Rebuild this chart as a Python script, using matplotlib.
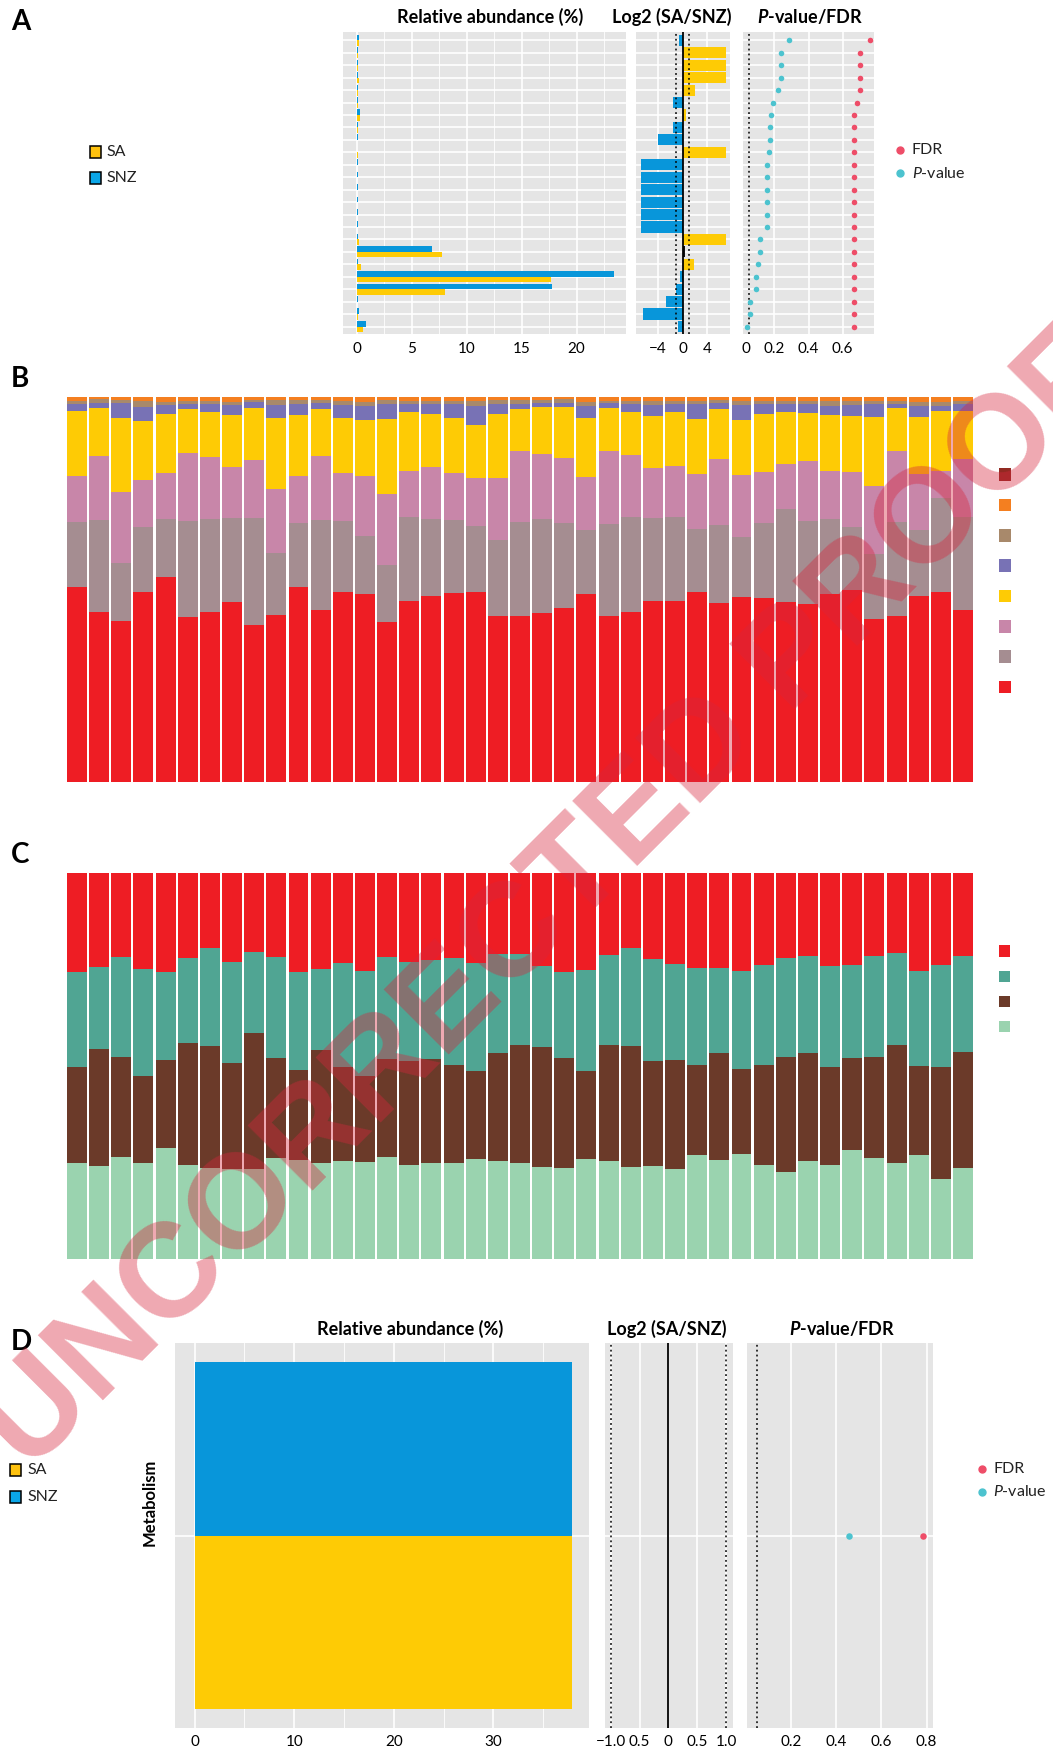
import numpy as np
import matplotlib
matplotlib.use("Agg")
import matplotlib.pyplot as plt
from matplotlib.patches import Rectangle
from matplotlib.lines import Line2D

plt.rcParams['font.family'] = ['Lato', 'DejaVu Sans']
plt.rcParams['mathtext.fontset'] = 'custom'
plt.rcParams['mathtext.rm'] = 'Lato'
plt.rcParams['mathtext.it'] = 'Lato:italic'
plt.rcParams['mathtext.bf'] = 'Lato:bold'
plt.rcParams['mathtext.bfit'] = 'Lato:italic:bold'

W, H = 1053, 1755

# ---- panel A : 24 pathways, top to bottom ----
a_snz = [0.18, 0.05, 0.05, 0.05, 0.05, 0.10, 0.30, 0.08, 0.06, 0.03, 0.08, 0.08,
         0.08, 0.08, 0.08, 0.08, 0.05, 6.8, 0.10, 23.4, 17.8, 0.06, 0.15, 0.85]
a_sa = [0.18, 0.12, 0.12, 0.18, 0.12, 0.08, 0.30, 0.06, 0.04, 0.12, 0.03, 0.03,
        0.03, 0.03, 0.03, 0.03, 0.20, 7.7, 0.40, 17.7, 8.0, 0.04, 0.08, 0.50]
a_log2 = [-0.6, 7.0, 7.0, 7.0, 2.0, -1.57, 0.54, -1.57, -4.0, 7.0, -6.76, -6.76,
          -6.76, -6.76, -6.76, -6.76, 7.0, 0.35, 1.84, -0.43, -1.08, -2.7, -6.4, -0.76]
a_group = ['SNZ', 'SA', 'SA', 'SA', 'SA', 'SNZ', 'SA', 'SNZ', 'SNZ', 'SA', 'SNZ', 'SNZ',
           'SNZ', 'SNZ', 'SNZ', 'SNZ', 'SA', 'none', 'SA', 'SNZ', 'SNZ', 'SNZ', 'SNZ', 'SNZ']
a_pval = [0.288, 0.239, 0.239, 0.239, 0.218, 0.190, 0.179, 0.175, 0.175, 0.165, 0.159, 0.159,
          0.159, 0.159, 0.159, 0.159, 0.116, 0.116, 0.102, 0.091, 0.089, 0.054, 0.054, 0.040]
a_fdr = [0.76, 0.70, 0.70, 0.70, 0.70, 0.688, 0.67, 0.67, 0.67, 0.67, 0.67, 0.67,
         0.67, 0.67, 0.67, 0.67, 0.67, 0.67, 0.67, 0.67, 0.67, 0.67, 0.67, 0.67]

# ---- panel B : 41 samples, 8 taxa (%) ----
b_red = [50.6, 44.1, 41.7, 49.5, 53.4, 42.8, 44.1, 46.7, 40.7, 43.3, 50.6, 44.6, 49.3, 48.7,
         41.5, 46.9, 48.2, 49.0, 49.3, 43.0, 43.0, 43.8, 45.1, 48.7, 43.0, 44.1, 46.9, 46.9,
         49.3, 46.4, 48.0, 47.7, 46.7, 46.1, 48.7, 49.8, 42.3, 43.0, 48.2, 49.3, 44.6]
b_gray = [16.9, 23.9, 15.1, 16.9, 15.1, 25.2, 24.2, 22.1, 27.8, 16.4, 16.6, 23.4, 18.4, 15.1,
          14.8, 21.8, 20.0, 19.0, 17.1, 19.7, 24.4, 24.4, 22.1, 16.6, 23.9, 24.7, 21.6, 21.8,
          16.4, 20.3, 15.6, 19.5, 24.2, 21.6, 19.5, 16.4, 16.9, 24.4, 17.1, 24.4, 24.2]
b_pink = [11.9, 16.6, 18.4, 12.2, 11.9, 17.7, 16.1, 13.2, 15.1, 16.6, 12.2, 16.6, 12.5, 15.6,
          18.4, 11.9, 13.5, 12.2, 12.5, 16.1, 18.4, 16.9, 16.9, 13.8, 19.0, 16.1, 13.0, 13.2,
          14.3, 17.1, 16.1, 13.2, 11.7, 15.6, 12.5, 14.3, 17.7, 18.4, 14.5, 7.0, 15.1]
b_yellow = [16.9, 12.5, 19.2, 15.3, 15.3, 11.4, 11.7, 13.5, 13.5, 18.4, 15.8, 12.2, 14.3, 14.5,
            19.5, 15.3, 13.8, 14.3, 13.8, 16.6, 10.9, 12.2, 13.2, 15.3, 11.2, 11.2, 13.5, 14.0,
            14.3, 13.0, 14.3, 15.1, 13.5, 12.5, 14.5, 14.5, 17.9, 11.2, 14.8, 15.6, 12.5]
b_purple = [1.8, 1.3, 3.9, 3.6, 2.3, 1.3, 2.1, 2.6, 1.6, 3.4, 2.9, 1.6, 3.4, 3.6,
            3.9, 2.1, 2.6, 3.6, 4.9, 2.6, 1.3, 1.0, 1.0, 3.1, 1.3, 2.1, 2.9, 2.1,
            3.9, 1.6, 3.9, 2.6, 2.1, 2.3, 2.3, 2.9, 3.4, 1.0, 2.9, 1.3, 1.8]
b_tan = [0.8, 1.0, 0.8, 1.6, 0.8, 0.8, 0.8, 0.8, 0.5, 1.3, 1.0, 0.8, 1.0, 1.0,
         1.0, 0.8, 0.8, 0.8, 1.3, 1.0, 1.0, 0.8, 1.0, 1.0, 0.5, 0.8, 1.0, 0.8,
         0.8, 0.8, 1.0, 0.8, 0.8, 0.8, 1.3, 1.0, 0.8, 0.8, 1.0, 1.0, 0.8]
b_orange = [1.1, 0.5, 0.8, 1.0, 1.3, 1.0, 1.0, 1.3, 0.8, 0.8, 0.8, 0.8, 1.0, 1.3,
            0.8, 1.0, 1.0, 1.0, 1.0, 0.8, 0.8, 0.8, 0.5, 1.3, 1.0, 1.0, 1.0, 1.0,
            1.0, 0.8, 1.0, 1.0, 1.0, 1.0, 1.0, 1.0, 1.0, 1.0, 1.3, 1.3, 1.0]
b_darkred = [0.1, 0.1, 0.1, 0.1, 0.1, 0.1, 0.1, 0.1, 0.1, 0.1, 0.1, 0.1, 0.1, 0.1,
             0.1, 0.1, 0.1, 0.1, 0.1, 0.1, 0.1, 0.1, 0.1, 0.1, 0.1, 0.1, 0.1, 0.1,
             0.1, 0.1, 0.1, 0.1, 0.1, 0.1, 0.1, 0.1, 0.1, 0.1, 0.1, 0.1, 0.1]

# ---- panel C : 41 samples, 4 groups (%) ----
c_green = [24.8, 24.0, 26.4, 24.8, 28.7, 24.3, 23.5, 23.2, 23.2, 26.1, 25.6, 24.8, 25.3, 25.1,
           26.4, 24.3, 24.8, 24.8, 25.8, 25.3, 24.8, 23.8, 23.5, 25.8, 25.3, 23.8, 24.0, 23.2,
           26.9, 25.6, 27.1, 24.3, 22.5, 25.3, 24.3, 28.2, 26.1, 24.8, 26.9, 20.7, 23.5]
c_brown = [24.9, 30.3, 25.9, 22.6, 22.8, 31.6, 31.6, 27.5, 35.3, 25.9, 23.3, 29.3, 24.4, 22.3,
           25.4, 27.0, 27.0, 25.4, 22.8, 28.0, 30.6, 31.1, 28.5, 22.8, 30.1, 31.4, 27.2, 28.3,
           23.3, 27.7, 22.0, 25.9, 29.8, 28.0, 25.4, 23.9, 26.2, 30.6, 23.1, 29.0, 30.1]
c_teal = [24.6, 21.3, 25.9, 27.7, 22.8, 22.0, 25.4, 26.2, 21.0, 26.2, 25.4, 21.0, 27.0, 27.2,
          26.4, 25.7, 25.7, 27.7, 28.0, 25.7, 23.6, 21.0, 22.3, 26.2, 23.3, 25.4, 26.4, 24.9,
          25.2, 22.0, 25.4, 25.9, 25.7, 25.2, 26.2, 24.1, 26.2, 23.9, 24.6, 26.4, 24.9]
c_red = [25.7, 24.4, 21.8, 24.9, 25.7, 22.0, 19.4, 23.1, 20.5, 21.8, 25.7, 24.9, 23.3, 25.4,
         21.8, 23.1, 22.6, 22.0, 23.3, 21.0, 21.0, 24.1, 25.7, 25.2, 21.3, 19.4, 22.3, 23.6,
         24.6, 24.6, 25.4, 23.9, 22.0, 21.5, 24.1, 23.9, 21.5, 20.7, 25.4, 23.9, 21.5]

# ---- panel D : one category ----
d_snz = [37.9]
d_sa = [37.85]
d_log2 = [0.0]
d_pval = [0.458]
d_fdr = [0.785]

SA_COL = '#FECB05'
SNZ_COL = '#0896DA'
FDR_COL = '#EE4D68'
P_COL = '#4CC3CF'
BG = '#E5E5E5'
group_col = {'SA': SA_COL, 'SNZ': SNZ_COL, 'none': '#111111'}

fig = plt.figure(figsize=(W / 100, H / 100), dpi=100)


def add_box(l, t, r, b):
    return fig.add_axes([l / W, 1 - b / H, (r - l) / W, (b - t) / H])


def style(ax, pad=6):
    ax.set_facecolor(BG)
    for s in ax.spines.values():
        s.set_visible(False)
    ax.tick_params(which='both', length=0, labelsize=11, pad=pad, labelleft=False)
    ax.set_axisbelow(True)


def ftext(x, y, s, **kw):
    return fig.text(x / W, 1 - y / H, s, **kw)


def key_square(x, y, size, color, ec='none', lw=0):
    fig.add_artist(Rectangle((x / W, 1 - (y + size) / H), size / W, size / H,
                             transform=fig.transFigure, facecolor=color,
                             edgecolor=ec, linewidth=lw))


def key_dot(x, y, color, ms=5):
    fig.add_artist(Line2D([x / W], [1 - y / H], marker='o', ms=ms, color=color,
                          linestyle='none', transform=fig.transFigure))


def rel_panel(ax, snz, sa, major, minor, xlim):
    y = np.arange(len(snz))
    ax.barh(y - 0.225, snz, height=0.45, color=SNZ_COL)
    ax.barh(y + 0.225, sa, height=0.45, color=SA_COL)
    ax.set_xticks(major)
    ax.set_xticks(minor, minor=True)
    ax.set_yticks(y)
    ax.grid(which='major', color='white', lw=1.2)
    ax.grid(which='minor', axis='x', color='white', lw=0.6)
    ax.set_xlim(*xlim)


# ================= panel A =================
nA = len(a_snz)
yA = np.arange(nA)

ax = add_box(343, 32, 626, 334)
style(ax)
rel_panel(ax, a_snz, a_sa, [0, 5, 10, 15, 20], [2.5, 7.5, 12.5, 17.5, 22.5], (-1.28, 24.5))
ax.set_ylim(nA - 0.4, -0.67)

ax = add_box(636, 32, 730, 334)
style(ax)
ax.barh(yA, a_log2, height=0.9, color=[group_col[g] for g in a_group])
ax.set_xticks([-4, 0, 4])
ax.set_yticks(yA)
ax.grid(which='major', color='white', lw=1.2)
ax.axvline(0, color='black', lw=1.3)
for v in (-1, 1):
    ax.axvline(v, color='black', lw=1.1, ls=(0, (1.2, 2)))
ax.set_xlim(-7.57, 7.68)
ax.set_ylim(nA - 0.4, -0.67)

ax = add_box(743, 32, 874, 334)
style(ax)
ax.scatter(a_pval, yA, s=16, color=P_COL, zorder=3, linewidths=0)
ax.scatter(a_fdr, yA, s=16, color=FDR_COL, zorder=3, linewidths=0)
ax.set_xticks([0.034, 0.2, 0.4, 0.6], ['0', '0.2', '0.4', '0.6'])
ax.set_yticks(yA)
ax.grid(axis='y', color='white', lw=1.2)
for v in (0.2, 0.4, 0.6):
    ax.axvline(v, color='white', lw=1.2, zorder=0.5)
ax.axvline(0.05, color='black', lw=1.1, ls=(0, (1.2, 2)))
ax.set_xlim(0.015, 0.785)
ax.set_ylim(nA - 0.4, -0.67)

tkw = dict(fontsize=13, fontweight='bold', ha='center', va='baseline')
ftext(490, 22.5, 'Relative abundance (%)', **tkw)
ftext(672, 22.5, 'Log2 (SA/SNZ)', **tkw)
ftext(810, 22.5, r'$\mathbfit{P}$-value/FDR', **tkw)

key_square(89.5, 145.7, 11.8, '#FFC20E', ec='black', lw=1.1)
key_square(89.5, 172.3, 11.8, '#0AA6E8', ec='black', lw=1.1)
ftext(106.5, 151.6, 'SA', fontsize=11.5, va='center', color='#222222')
ftext(106.5, 178.2, 'SNZ', fontsize=11.5, va='center', color='#222222')
key_dot(900, 150, FDR_COL)
key_dot(900, 173, P_COL)
ftext(911.5, 150, 'FDR', fontsize=11.5, va='center', color='#222222')
ftext(911.5, 173, r'$\mathit{P}$-value', fontsize=11.5, va='center', color='#222222')

# ================= panel B =================
b_layers = [b_red, b_gray, b_pink, b_yellow, b_purple, b_tan, b_orange, b_darkred]
b_colors = ['#EE1D24', '#A58D91', '#C886A9', '#FECB05', '#7872B5', '#A8896B', '#F47F20', '#922A22']
b_tot = np.sum(np.array(b_layers), axis=0)
xs = np.arange(len(b_red))

ax = add_box(67, 396.7, 973, 781.7)
bottom = np.zeros(len(xs))
for vals, col in zip(b_layers, b_colors):
    share = np.array(vals) / b_tot * 100
    ax.bar(xs, share, bottom=bottom, width=0.9, color=col)
    bottom += share
ax.set_xlim(-0.45, len(xs) - 0.55)
ax.set_ylim(0, 100)
ax.axis('off')

for k, col in enumerate(b_colors[::-1]):
    key_square(998.5, 468.5 + k * 30.3, 12.5, col)

# ================= panel C =================
c_layers = [c_green, c_brown, c_teal, c_red]
c_colors = ['#9AD3AF', '#6B3A29', '#50A593', '#EE1D24']
c_tot = np.sum(np.array(c_layers), axis=0)

ax = add_box(67, 873, 973, 1258.7)
bottom = np.zeros(len(xs))
for vals, col in zip(c_layers, c_colors):
    share = np.array(vals) / c_tot * 100
    ax.bar(xs, share, bottom=bottom, width=0.9, color=col)
    bottom += share
ax.set_xlim(-0.45, len(xs) - 0.55)
ax.set_ylim(0, 100)
ax.axis('off')

for k, col in enumerate(c_colors[::-1]):
    key_square(998.7, 945.3 + k * 25.2, 11.5, col)

# ================= panel D =================
yD = np.arange(len(d_snz))

ax = add_box(175, 1343, 589, 1728)
style(ax, pad=5)
rel_panel(ax, d_snz, d_sa, [0, 10, 20, 30], [5, 15, 25, 35], (-1.97, 39.6))
ax.set_ylim(0.5, -0.5)

ax = add_box(605, 1343, 733, 1728)
style(ax, pad=5)
ax.barh(yD, d_log2, height=0.9, color=SNZ_COL)
ax.set_xticks([-1, -0.5, 0, 0.5, 1], ['\u22121.0', '0.5', '0', '0.5', '1.0'])
ax.set_yticks(yD)
ax.grid(which='major', color='white', lw=1.2)
ax.axvline(0, color='black', lw=1.3)
for v in (-1, 1):
    ax.axvline(v, color='black', lw=1.1, ls=(0, (1.2, 2)))
ax.set_xlim(-1.1, 1.12)
ax.set_ylim(0.5, -0.5)

ax = add_box(747, 1343, 933, 1728)
style(ax, pad=5)
ax.scatter(d_pval, yD, s=22, color=P_COL, zorder=3, linewidths=0)
ax.scatter(d_fdr, yD, s=22, color=FDR_COL, zorder=3, linewidths=0)
ax.set_xticks([0.2, 0.4, 0.6, 0.8])
ax.set_yticks(yD)
ax.grid(which='major', color='white', lw=1.2)
ax.axvline(0.05, color='black', lw=1.1, ls=(0, (1.2, 2)))
ax.set_xlim(0.007, 0.828)
ax.set_ylim(0.5, -0.5)

ftext(410, 1335, 'Relative abundance (%)', **tkw)
ftext(667, 1335, 'Log2 (SA/SNZ)', **tkw)
ftext(842, 1335, r'$\mathbfit{P}$-value/FDR', **tkw)
ftext(150, 1502, 'Metabolism', fontsize=12, fontweight='bold', rotation=90,
      ha='center', va='center')

key_square(9.6, 1464, 11.5, '#FFC20E', ec='black', lw=1.1)
key_square(9.6, 1491, 11.5, '#0AA6E8', ec='black', lw=1.1)
ftext(27, 1470, 'SA', fontsize=11.5, va='center', color='#222222')
ftext(27, 1497, 'SNZ', fontsize=11.5, va='center', color='#222222')
key_dot(981.7, 1469, FDR_COL)
key_dot(981.7, 1492, P_COL)
ftext(993, 1469, 'FDR', fontsize=11.5, va='center', color='#222222')
ftext(993, 1492, r'$\mathit{P}$-value', fontsize=11.5, va='center', color='#222222')

# panel letters
for lab, yb in (('A', 30), ('B', 387), ('C', 863), ('D', 1350)):
    ftext(11, yb, lab, fontsize=20, fontweight='bold', va='baseline')

# proof watermark
ftext(552, 903, 'UNCORRECTED PROOF', fontsize=96, fontweight='bold',
      family=['Liberation Sans', 'DejaVu Sans'], color='#D7263D', alpha=0.4,
      rotation=45, ha='center', va='center', rotation_mode='anchor', zorder=10)

fig.savefig('out.png', dpi=100)
